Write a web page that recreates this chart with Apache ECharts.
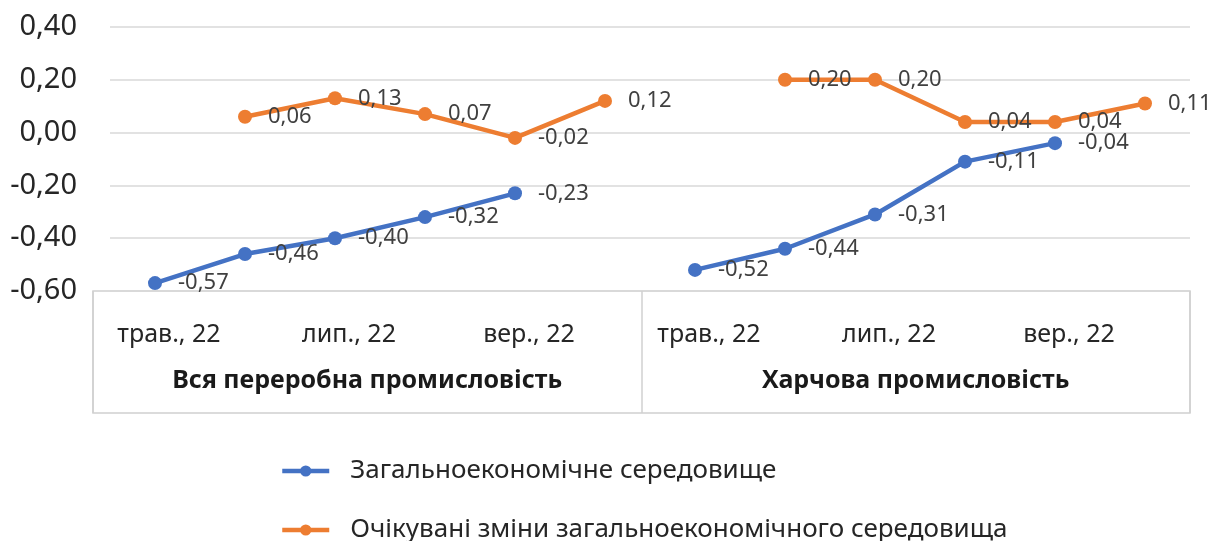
<!DOCTYPE html>
<html>
<head>
<meta charset="utf-8">
<script src="https://cdn.jsdelivr.net/npm/echarts@6/dist/echarts.min.js"></script>
<style>
    html, body { margin: 0; padding: 0; background: #fff; }
    #chart { width: 1212px; height: 541px; }
</style>
</head>
<body>
<div id="chart"></div>
<script>
const months = ["трав., 22", "черв., 22", "лип., 22", "серп., 22", "вер., 22", "жовт., 22",
    "трав., 22", "черв., 22", "лип., 22", "серп., 22", "вер., 22", "жовт., 22"];
const groups = ["Вся переробна промисловість", "Харчова промисловість"];
const generalEnv = [-0.57, -0.46, -0.40, -0.32, -0.23, null, -0.52, -0.44, -0.31, -0.11, -0.04, null];
const expectedEnv = [null, 0.06, 0.13, 0.07, -0.02, 0.12, null, 0.20, 0.20, 0.04, 0.04, 0.11];
const seriesNames = ["Загальноекономічне середовище", "Очікувані зміни загальноекономічного середовища"];

const font = "Noto Sans";
const fmt = v => v.toFixed(2).replace(".", ",");

const chart = echarts.init(document.getElementById("chart"));

function lineSeries(name, data, color) {
    return {
        name: name,
        type: "line",
        data: data,
        xAxisIndex: 0,
        yAxisIndex: 0,
        symbol: "circle",
        symbolSize: 14,
        lineStyle: { width: 4.5, color: color },
        itemStyle: { color: color },
        label: {
            show: true,
            position: "right",
            distance: 16,
            fontFamily: font,
            fontSize: 22,
            color: "#404040",
            formatter: p => fmt(p.value)
        },
        z: 3
    };
}

// one legend per series so they stack the way the original does
function legendRow(name, top) {
    return {
        left: 275,
        top: top,
        itemWidth: 47,
        itemHeight: 14,
        lineStyle: { width: 4.5 },
        textStyle: {
            fontFamily: font,
            fontSize: 26,
            color: "#262626",
            padding: [0, 0, 0, 16]
        },
        data: [name]
    };
}

chart.setOption({
    animation: false,
    grid: [
        { left: 110, right: 22, top: 27, height: 264 },
        { left: 93, right: 22, top: 291, height: 122, show: true, borderColor: "#d0d0d0", borderWidth: 1.5, backgroundColor: "transparent" }
    ],
    xAxis: [{
        type: "category",
        gridIndex: 0,
        data: months,
        axisLine: { show: false },
        axisTick: { show: false },
        axisLabel: {
            interval: 1,
            margin: 31,
            padding: [0, 0, 0, 28],
            fontFamily: font,
            fontSize: 25,
            color: "#262626"
        }
    }, {
        type: "category",
        gridIndex: 1,
        data: groups,
        boundaryGap: true,
        axisLine: { show: false },
        axisTick: { show: false },
        splitLine: { show: true, lineStyle: { color: "#d0d0d0", width: 1.5 } },
        axisLabel: {
            inside: true,
            margin: 20,
            fontFamily: font,
            fontSize: 25,
            fontWeight: "bold",
            color: "#1a1a1a"
        }
    }],
    yAxis: [{
        type: "value",
        gridIndex: 0,
        min: -0.6,
        max: 0.4,
        interval: 0.2,
        axisLine: { show: false },
        axisTick: { show: false },
        splitLine: { lineStyle: { color: "#d9d9d9", width: 1.5 } },
        axisLabel: {
            margin: 33,
            fontFamily: font,
            fontSize: 29,
            color: "#262626",
            formatter: v => fmt(v)
        }
    }, {
        type: "value",
        gridIndex: 1,
        show: false
    }],
    legend: [
        legendRow(seriesNames[0], 453),
        legendRow(seriesNames[1], 512)
    ],
    series: [
        lineSeries(seriesNames[0], generalEnv, "#4472C4"),
        lineSeries(seriesNames[1], expectedEnv, "#ED7D31")
    ]
});
</script>
</body>
</html>
